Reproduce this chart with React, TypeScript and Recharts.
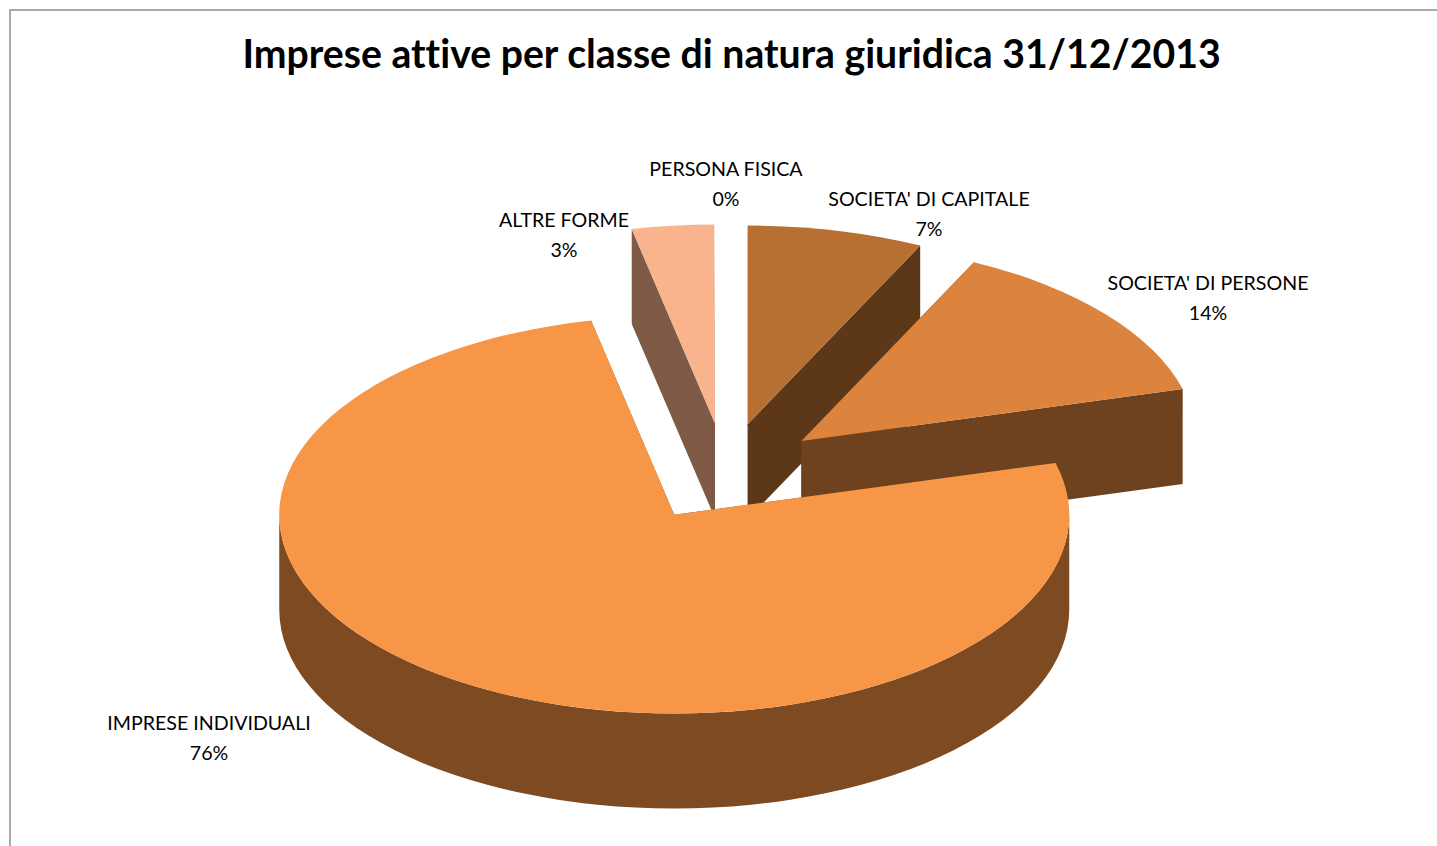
import { PieChart, Pie } from 'recharts'

const categories = [
  "SOCIETA' DI CAPITALE",
  "SOCIETA' DI PERSONE",
  'IMPRESE INDIVIDUALI',
  'ALTRE FORME',
  'PERSONA FISICA',
]
const shares = [7.2, 13.6, 75.85, 3.35, 0.03]

const topColors = ['#B86F32', '#DC843E', '#F79646', '#F9B48E', '#F79646']
const wallColors = ['#5C3819', '#6F421F', '#7D4A22', '#7F5B47', '#7D4A22']

// where Excel put each two line label (centre of the text block)
const labelSpots = [
  { x: 929, y: 199 },
  { x: 1208, y: 283 },
  { x: 209, y: 723 },
  { x: 564, y: 220 },
  { x: 726, y: 169 },
]

const pieData = categories.map((name, i) => ({ name, value: shares[i] }))

const WIDTH = 1437
const HEIGHT = 846
const TILT = 0.503 // ellipse height / width
const EXPLODE = 98.5
const DEPTH = 95
const MIN_SPAN = 0.5 // the 0% slice has nothing to show
const RAD = Math.PI / 180

// ellipse helpers, the library hands us plain circle angles
function onEllipse(cx: number, cy: number, r: number, deg: number) {
  return { x: cx + r * Math.cos(deg * RAD), y: cy - r * TILT * Math.sin(deg * RAD) }
}

function sliceGeometry(props: any) {
  const { cx, cy, outerRadius, startAngle, endAngle } = props
  const mid = (startAngle + endAngle) / 2
  const apex = onEllipse(cx, cy, EXPLODE, mid)
  const index = categories.indexOf(props.payload?.name ?? props.name)
  return { apex, r: outerRadius, startAngle, endAngle, index }
}

function TopFace(props: any) {
  const { apex, r, startAngle, endAngle, index } = sliceGeometry(props)
  if (startAngle - endAngle < MIN_SPAN) return null
  const a = onEllipse(apex.x, apex.y, r, startAngle)
  const b = onEllipse(apex.x, apex.y, r, endAngle)
  const large = startAngle - endAngle > 180 ? 1 : 0
  const d = `M${apex.x},${apex.y} L${a.x},${a.y} A${r},${r * TILT} 0 ${large} 1 ${b.x},${b.y} Z`
  return <path d={d} fill={topColors[index]} />
}

function Walls(props: any) {
  const { apex, r, startAngle, endAngle, index } = sliceGeometry(props)
  if (startAngle - endAngle < MIN_SPAN) return null
  const fill = wallColors[index]
  const a = onEllipse(apex.x, apex.y, r, startAngle)
  const b = onEllipse(apex.x, apex.y, r, endAngle)

  const radial = (p: { x: number; y: number }) =>
    `M${apex.x},${apex.y} L${p.x},${p.y} L${p.x},${p.y + DEPTH} L${apex.x},${apex.y + DEPTH} Z`

  // rim is only visible on the front half of the ellipse
  const hi = Math.min(startAngle, 0)
  const lo = Math.max(endAngle, -180)
  let rim = null
  if (hi > lo) {
    const p = onEllipse(apex.x, apex.y, r, hi)
    const q = onEllipse(apex.x, apex.y, r, lo)
    const d =
      `M${p.x},${p.y} A${r},${r * TILT} 0 0 1 ${q.x},${q.y} ` +
      `L${q.x},${q.y + DEPTH} A${r},${r * TILT} 0 0 0 ${p.x},${p.y + DEPTH} Z`
    rim = <path d={d} fill={fill} />
  }

  return (
    <g>
      <path d={radial(a)} fill={fill} />
      <path d={radial(b)} fill={fill} />
      {rim}
    </g>
  )
}

function SliceLabel(props: any) {
  const spot = labelSpots[props.index]
  const pct = `${Math.round(props.percent * 100)}%`
  const style = { fontFamily: 'Lato', fontSize: 19.6, fill: '#000' }
  return (
    <text x={spot.x} textAnchor="middle" style={style}>
      <tspan x={spot.x} y={spot.y + 7}>{props.name}</tspan>
      <tspan x={spot.x} y={spot.y + 36.5}>{pct}</tspan>
    </text>
  )
}

export default function App() {
  return (
    <div style={{ position: 'absolute', left: 0, top: 0, width: WIDTH, height: HEIGHT, overflow: 'hidden', background: '#fff' }}>
      <div
        style={{
          position: 'absolute',
          left: 9,
          top: 9,
          width: WIDTH,
          height: HEIGHT,
          border: '2px solid #a9a9a9',
        }}
      />
      <div
        style={{
          position: 'absolute',
          left: 0,
          top: 26,
          width: 1463,
          textAlign: 'center',
          fontFamily: 'Lato',
          fontWeight: 700,
          fontSize: 39.2,
          lineHeight: '54px',
          fontVariantLigatures: 'none',
          color: '#000',
        }}
      >
        Imprese attive per classe di natura giuridica 31/12/2013
      </div>
      <div style={{ position: 'absolute', left: 0, top: 0 }}>
        <PieChart width={WIDTH} height={HEIGHT} margin={{ top: 0, right: 0, bottom: 0, left: 0 }}>
          <Pie
            data={pieData}
            dataKey="value"
            nameKey="name"
            cx={725.5}
            cy={472.5}
            outerRadius={395}
            startAngle={90}
            endAngle={-270}
            stroke="none"
            shape={Walls}
            isAnimationActive={false}
          />
          <Pie
            data={pieData}
            dataKey="value"
            nameKey="name"
            cx={725.5}
            cy={472.5}
            outerRadius={395}
            startAngle={90}
            endAngle={-270}
            stroke="none"
            shape={TopFace}
            label={SliceLabel}
            labelLine={false}
            isAnimationActive={false}
          />
        </PieChart>
      </div>
    </div>
  )
}
